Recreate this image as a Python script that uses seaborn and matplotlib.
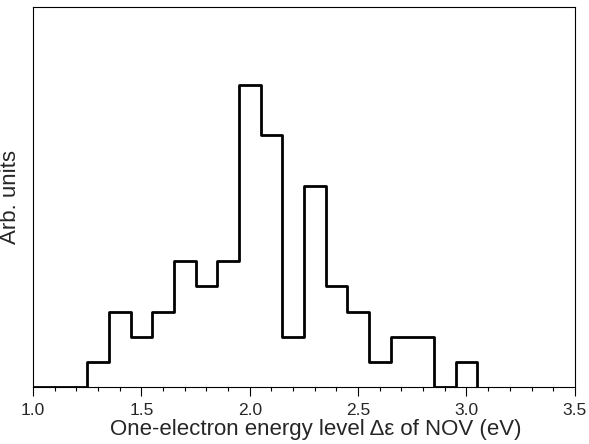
import matplotlib
matplotlib.use("Agg")
import matplotlib.pyplot as plt
from matplotlib.ticker import MultipleLocator
import seaborn as sns
import pandas as pd

# Histogram bin edges (left edges, final point closes the step) and counts
bin_edges = [1.0, 1.25, 1.35, 1.45, 1.55, 1.65, 1.75, 1.85, 1.95, 2.05, 2.15,
             2.25, 2.35, 2.45, 2.55, 2.65, 2.75, 2.85, 2.95, 3.05]
counts = [0, 1, 3, 2, 3, 5, 4, 5, 12, 10, 2, 8, 4, 3, 1, 2, 2, 0, 1, 0]
xtick_values = [1.0, 1.5, 2.0, 2.5, 3.0, 3.5]
xtick_labels = ["1.0", "1.5", "2.0", "2.5", "3.0", "3.5"]

sns.set_theme(style="ticks")
plt.rcParams['font.family'] = ['Liberation Sans', 'DejaVu Sans']

df = pd.DataFrame({"x": bin_edges, "y": counts})

fig = plt.figure(figsize=(5.89, 4.44), dpi=100)
ax = fig.add_axes([0.056, 0.128, 0.92, 0.856])

sns.lineplot(data=df, x="x", y="y", ax=ax, color="black", linewidth=2.0,
             drawstyle="steps-post", sort=False)

ax.set_xlim(1.0, 3.5)
ax.set_ylim(0, 15.1)
ax.set_xticks(xtick_values)
ax.set_xticklabels(xtick_labels, fontsize=12.5)
ax.xaxis.set_minor_locator(MultipleLocator(0.1))
ax.tick_params(axis="x", which="major", direction="out", length=6.5, width=0.8,
               color="black", pad=5)
ax.tick_params(axis="x", which="minor", direction="out", length=3, width=0.8,
               color="black")
ax.set_yticks([])
ax.set_xlabel("One-electron energy level Δε of NOV (eV)", fontsize=16)
ax.set_ylabel("Arb. units", fontsize=16)
ax.xaxis.set_label_coords(0.522, -0.085)
ax.yaxis.set_label_coords(-0.022, 0.5)
for s in ax.spines.values():
    s.set_visible(True)
    s.set_color("black")
    s.set_linewidth(0.8)

fig.savefig("out.png", dpi=100)
